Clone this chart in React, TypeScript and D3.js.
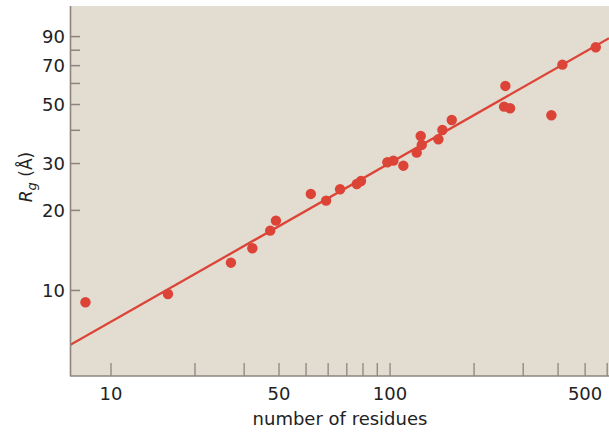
import React from "react";
import * as d3 from "d3";

const residues = [8.1, 16.0, 26.9, 32.1, 37.2, 39.0, 52.0, 59.0, 66.2, 76.0, 78.7, 97.8, 102.8, 111.6, 124.6, 129.9, 128.8, 149.0, 154.0, 166.4, 259.0, 256.2, 269.2, 378.6, 414.6, 546.1];
const rg = [9.03, 9.70, 12.72, 14.41, 16.78, 18.3, 23.06, 21.76, 24.02, 25.14, 25.8, 30.34, 30.76, 29.45, 32.97, 35.24, 38.09, 37.02, 40.12, 43.75, 58.73, 49.09, 48.41, 45.56, 70.62, 82.1];

const fitPrefactor = 1.93;
const fitExponent = 0.597;

const xTicks = [10, 20, 30, 40, 50, 60, 70, 80, 90, 100, 200, 300, 400, 500, 600];
const xTickLabels = ["10", "50", "100", "500"];
const xTickLabelAt = [10, 40, 100, 500];
const yTicks = [10, 20, 30, 40, 50, 60, 70, 80, 90];
const yTickLabels = ["10", "20", "30", "50", "70", "90"];
const yTickLabelAt = [10, 20, 30, 50, 70, 90];

const W = 609;
const H = 434;
const left = 70;
const right = 609;
const top = 6;
const bottom = 376;

export default function App() {
  const x = d3.scaleLog().domain([7.13, 609]).range([left, right]);
  const y = d3.scaleLog().domain([4.77, 117.3]).range([bottom, top]);
  const red = "#db4437";
  const axisCol = "#8b857e";
  const font = "DejaVu Sans, sans-serif";
  const lineData = [7.13, 609].map((n) => [n, fitPrefactor * Math.pow(n, fitExponent)] as [number, number]);
  const line = d3.line<[number, number]>().x((d) => x(d[0])).y((d) => y(d[1]));
  return (
    <svg width={W} height={H} style={{ position: "absolute", left: 0, top: 0 }}>
      <defs>
        <clipPath id="plot">
          <rect x={left} y={top} width={right - left} height={bottom - top} />
        </clipPath>
      </defs>
      <rect x={left} y={top} width={right - left} height={bottom - top} fill="#e3dcd0" />
      <g clipPath="url(#plot)">
        <path d={line(lineData) || ""} stroke={red} strokeWidth={2.3} fill="none" />
        {residues.map((n, i) => (
          <circle key={i} cx={x(n)} cy={y(rg[i])} r={5.2} fill={red} />
        ))}
      </g>
      {yTicks.map((t) => (
        <line key={"yt" + t} x1={left} x2={left + 10} y1={y(t)} y2={y(t)} stroke={axisCol} strokeWidth={1.5} />
      ))}
      {xTicks.map((t) => (
        <line key={"xt" + t} x1={x(t)} x2={x(t)} y1={bottom} y2={bottom - 13} stroke={axisCol} strokeWidth={1.3} />
      ))}
      <line x1={left + 0.5} x2={left + 0.5} y1={top} y2={bottom} stroke={axisCol} strokeWidth={1.6} />
      <line x1={left} x2={right} y1={bottom} y2={bottom} stroke={axisCol} strokeWidth={1.6} />
      {yTickLabels.map((l, i) => (
        <text key={"yl" + l} x={65} y={y(yTickLabelAt[i])} dy="0.36em" textAnchor="end" fontFamily={font} fontSize={18} fill="#222">
          {l}
        </text>
      ))}
      {xTickLabels.map((l, i) => (
        <text key={"xl" + l} x={x(xTickLabelAt[i])} y={399.5} textAnchor="middle" fontFamily={font} fontSize={18} fill="#222">
          {l}
        </text>
      ))}
      <text x={340} y={425} textAnchor="middle" fontFamily={font} fontSize={18} fill="#222">
        number of residues
      </text>
      <text transform="translate(32,177) rotate(-90)" textAnchor="middle" fontFamily={font} fontSize={17} fill="#222">
        <tspan fontStyle="italic">R</tspan>
        <tspan fontStyle="italic" fontSize={13} dy={4}>g</tspan>
        <tspan dy={-4}> (Å)</tspan>
      </text>
    </svg>
  );
}
